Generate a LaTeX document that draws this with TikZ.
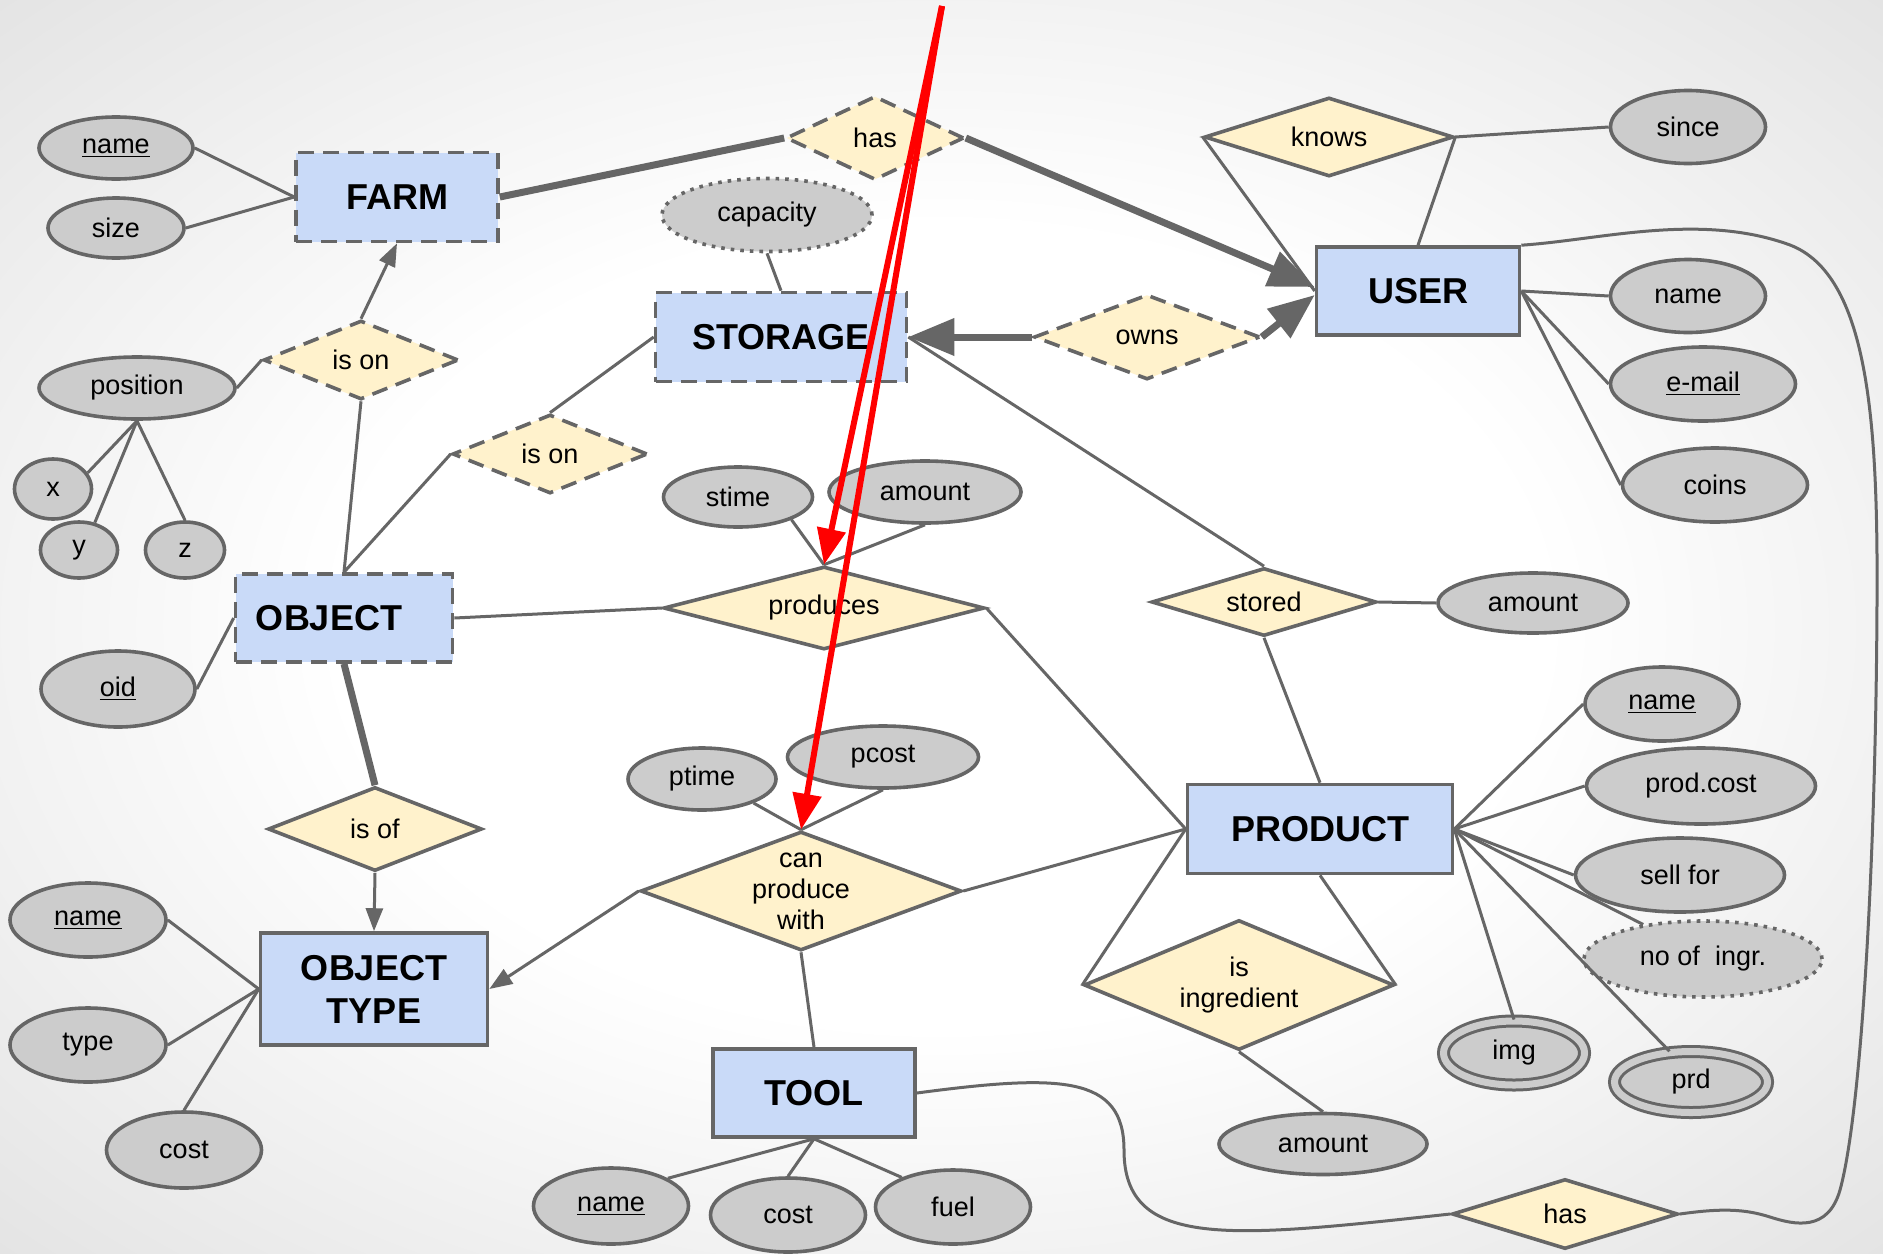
\documentclass[tikz,border=0pt]{standalone}
\usepackage{fontspec}
\setmainfont{Liberation Sans}
\usetikzlibrary{shapes.geometric,arrows.meta}
\definecolor{entblue}{HTML}{C9DAF8}
\definecolor{relyellow}{HTML}{FFF2CC}
\definecolor{attrgray}{HTML}{CCCCCC}
\definecolor{linegray}{HTML}{666666}
\pgfdeclareradialshading{bgglow}{\pgfpoint{0bp}{0bp}}{%
  color(0bp)=(white); color(16bp)=(white); color(71bp)=(black!30)}
\begin{document}
\begin{tikzpicture}[x=0.5pt,y=-0.5pt,
    every node/.style={font=\fontsize{13.5}{15.5}\selectfont, text=black},
    line/.style={draw=linegray, line width=1.5pt},
    heavy/.style={draw=linegray, line width=3.5pt},
    entity/.style={rectangle, draw=linegray, fill=entblue, line width=1.8pt,
      font=\fontsize{18}{21.5}\selectfont\bfseries, align=center},
    weak/.style={dash pattern=on 8pt off 4.5pt},
    rel/.style={diamond, draw=linegray, fill=relyellow, line width=1.8pt,
      inner sep=0pt, align=center, aspect=2.5},
    attr/.style={ellipse, draw=linegray, fill=attrgray, line width=1.8pt, inner sep=0pt},
    derived/.style={dash pattern=on 1.8pt off 3pt},
    multi/.style={double=attrgray, double distance=3.5pt, line width=1.5pt},
    small arrow/.style={-{Triangle[length=11.5pt,width=8.5pt]}},
    big arrow/.style={-{Triangle[length=23pt,width=18pt]}},
    red arrow/.style={draw=red, line width=3pt, -{Triangle[length=18pt,width=14pt]}}
  ]
    % background
    \shade[shading=bgglow] (0,0) rectangle (1883,1253);
    \useasboundingbox (0,0) rectangle (1883,1253);

    % entities
    \node[entity, weak, minimum width=101pt, minimum height=44.5pt] (farm) at (397,197) {FARM};
    \node[entity, weak, minimum width=125.5pt, minimum height=44.5pt] (storage) at (781,337) {STORAGE};
    \node[entity, minimum width=101.5pt, minimum height=44pt] (user) at (1418,291) {USER};
    \node[entity, weak, minimum width=108.5pt, minimum height=44pt] (object) at (344,618) {OBJECT\hspace{15pt}};
    \node[entity, minimum width=113.5pt, minimum height=56pt] (objtype) at (374,989) {OBJECT\\TYPE};
    \node[entity, minimum width=132.5pt, minimum height=44.5pt] (product) at (1320,829) {PRODUCT};
    \node[entity, minimum width=101pt, minimum height=44pt] (tool) at (814,1093) {TOOL};

    % relationships
    \node[rel, weak, aspect=2.1, minimum width=89pt, minimum height=42pt] (has) at (875,138) {has};
    \node[rel, weak, aspect=2.47, minimum width=97.5pt, minimum height=39.5pt] (isonfarm) at (361,360) {is on};
    \node[rel, weak, aspect=2.47, minimum width=97.5pt, minimum height=39.5pt] (isonstorage) at (550,454) {is on};
    \node[rel, weak, aspect=2.66, minimum width=113pt, minimum height=42.5pt] (owns) at (1147,337) {owns};
    \node[rel, aspect=3.15, minimum width=124.5pt, minimum height=39.5pt] (knows) at (1329,137) {knows};
    \node[rel, aspect=3.87, minimum width=160.5pt, minimum height=41.5pt] (produces) at (824,608) {produces};
    \node[rel, aspect=3.3, minimum width=112.5pt, minimum height=34pt] (stored) at (1264,602) {stored};
    \node[rel, aspect=2.55, minimum width=107pt, minimum height=42pt] (isof) at (375,829) {is of};
    \node[rel, aspect=2.7, minimum width=160.5pt, minimum height=59.5pt] (canprod) at (801,891) {can\\produce\\with};
    \node[rel, aspect=2.38, minimum width=155pt, minimum height=65pt] (isingr) at (1239,985) {is\\ingredient};
    \node[rel, aspect=3.2, minimum width=113pt, minimum height=35pt] (hastool) at (1565,1214) {has};

    % attributes
    \node[attr, minimum width=77pt, minimum height=31pt] (fname) at (116,148) {\underline{name}};
    \node[attr, minimum width=68pt, minimum height=30pt] (fsize) at (116,228) {size};
    \node[attr, derived, minimum width=105pt, minimum height=36.5pt] (capacity) at (767,215) {capacity};
    \node[attr, minimum width=98pt, minimum height=31pt] (position) at (137,388) {position};
    \node[attr, minimum width=38.5pt, minimum height=30pt] (px) at (53,489) {x};
    \node[attr, minimum width=38.5pt, minimum height=28pt] (py) at (79,550) {y};
    \node[attr, minimum width=39.5pt, minimum height=28pt] (pz) at (185,550) {z};
    \node[attr, minimum width=77pt, minimum height=38pt] (oid) at (118,689) {\underline{oid}};
    \node[attr, minimum width=74.5pt, minimum height=30pt] (stime) at (738,497) {stime};
    \node[attr, minimum width=96pt, minimum height=31pt] (prodamount) at (925,492) {amount};
    \node[attr, minimum width=74pt, minimum height=31pt] (ptime) at (702,779) {ptime};
    \node[attr, minimum width=95.5pt, minimum height=31pt] (pcost) at (883,757) {pcost};
    \node[attr, minimum width=77.5pt, minimum height=36.5pt] (since) at (1688,127) {since};
    \node[attr, minimum width=77.5pt, minimum height=36.5pt] (uname) at (1688,296) {name};
    \node[attr, minimum width=92.5pt, minimum height=37pt] (email) at (1703,384) {\underline{e-mail}};
    \node[attr, minimum width=92.5pt, minimum height=37pt] (coins) at (1715,485) {coins};
    \node[attr, minimum width=95pt, minimum height=30pt] (storamount) at (1533,603) {amount};
    \node[attr, minimum width=77pt, minimum height=37pt] (prname) at (1662,704) {\underline{name}};
    \node[attr, minimum width=114.5pt, minimum height=38pt] (prodcost) at (1701,786) {prod.cost};
    \node[attr, minimum width=104.5pt, minimum height=37pt] (sellfor) at (1680,875) {sell for};
    \node[attr, derived, minimum width=119pt, minimum height=38pt] (noingr) at (1703,959) {no of~ ingr.};
    \node[attr, multi, minimum width=70.5pt, minimum height=32pt] (img) at (1514,1053) {img};
    \node[attr, multi, minimum width=76.5pt, minimum height=30.5pt] (prd) at (1691,1082) {prd};
    \node[attr, minimum width=104pt, minimum height=30.5pt] (ingramount) at (1323,1144) {amount};
    \node[attr, minimum width=78pt, minimum height=37pt] (otname) at (88,920) {\underline{name}};
    \node[attr, minimum width=78pt, minimum height=37pt] (ottype) at (88,1045) {type};
    \node[attr, minimum width=77.5pt, minimum height=38pt] (otcost) at (184,1150) {cost};
    \node[attr, minimum width=77.5pt, minimum height=38pt] (tname) at (611,1206) {\underline{name}};
    \node[attr, minimum width=77.5pt, minimum height=37pt] (tcost) at (788,1215) {cost};
    \node[attr, minimum width=77.5pt, minimum height=37pt] (tfuel) at (953,1207) {fuel};

    % attribute links
    \draw[line] (fname.east) -- (farm.west);
    \draw[line] (fsize.east) -- (farm.west);
    \draw[line] (capacity.south) -- (storage.north);
    \draw[line] (position.east) -- (isonfarm.west);
    \draw[line] (position.south) -- (px.25);
    \draw[line] (position.south) -- (py.60);
    \draw[line] (position.south) -- (pz.north);
    \draw[line] (oid.east) -- (object.west);
    \draw[line] (stime.-23) -- (produces.north);
    \draw[line] (prodamount.south) -- (produces.north);
    \draw[line] (ptime.-25) -- (canprod.north);
    \draw[line] (pcost.south) -- (canprod.north);
    \draw[line] (knows.east) -- (since.west);
    \draw[line] (user.east) -- (uname.west);
    \draw[line] (user.east) -- (email.west);
    \draw[line] (user.east) -- (coins.west);
    \draw[line] (stored.east) -- (storamount.west);
    \draw[line] (product.east) -- (prname.west);
    \draw[line] (product.east) -- (prodcost.west);
    \draw[line] (product.east) -- (sellfor.west);
    \draw[line] (product.east) -- (noingr.150);
    \draw[line] (product.east) -- (img.north);
    \draw[line] (product.east) -- (prd.125);
    \draw[line] (isingr.south) -- (ingramount.north);
    \draw[line] (objtype.west) -- (otname.east);
    \draw[line] (objtype.west) -- (ottype.east);
    \draw[line] (objtype.west) -- (otcost.north);
    \draw[line] (tool.south) -- (tname.26);
    \draw[line] (tool.south) -- (tcost.north);
    \draw[line] (tool.south) -- (tfuel.150);

    % relationship links
    \draw[heavy] (farm.east) -- (has.west);
    \draw[heavy, big arrow] (has.east) -- ([yshift=2pt]user.west);
    \draw[heavy, big arrow] (owns.west) -- (storage.east);
    \draw[heavy, big arrow] (owns.east) -- ([yshift=-2pt]user.west);
    \draw[line] (knows.west) -- (user.west);
    \draw[line] (knows.east) -- (user.north);
    \draw[line, small arrow] (isonfarm.north) -- (farm.south);
    \draw[line] (isonfarm.south) -- (object.north);
    \draw[line] (isonstorage.west) -- (object.north);
    \draw[line] (storage.west) -- (isonstorage.north);
    \draw[line] (object.east) -- (produces.west);
    \draw[line] (produces.east) -- (product.west);
    \draw[line] (storage.east) -- (stored.north);
    \draw[line] (stored.south) -- (product.north);
    \draw[heavy] (object.south) -- (isof.north);
    \draw[line, small arrow] (isof.south) -- (objtype.north);
    \draw[line, small arrow] (canprod.west) -- (objtype.east);
    \draw[line] (canprod.east) -- (product.west);
    \draw[line] (canprod.south) -- (tool.north);
    \draw[line] (product.west) -- (isingr.west);
    \draw[line] (product.south) -- (isingr.east);
    \draw[line] (tool.east) .. controls (1060,1074) and (1124,1075) .. (1124,1150)
      .. controls (1124,1250) and (1230,1238) .. (hastool.west);
    \draw[line] (user.north east) .. controls (1600,240) and (1700,212) .. (1790,245)
      .. controls (1868,275) and (1878,420) .. (1877,600)
      .. controls (1876,850) and (1862,1110) .. (1840,1190)
      .. controls (1828,1232) and (1795,1225) .. (1770,1217)
      .. controls (1745,1209) and (1722,1208) .. (hastool.east);

    % red marks
    \coordinate (redtop) at (942,6);
    \draw[red arrow] (redtop) -- (produces.north);
    \draw[red arrow] (redtop) -- (canprod.north);
\end{tikzpicture}
\end{document}
